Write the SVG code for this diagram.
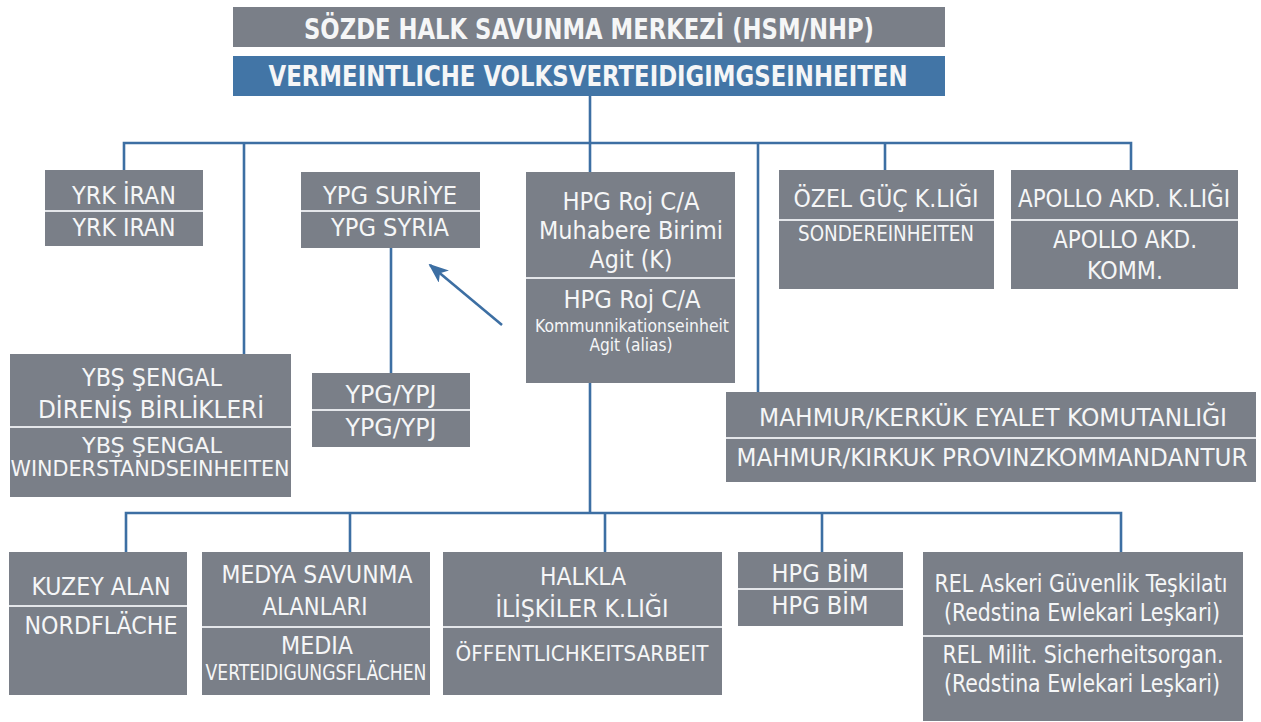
<svg xmlns="http://www.w3.org/2000/svg" width="1261" height="722" viewBox="0 0 1261 722">
<defs>
<style>
.b{fill:#7a7f88}
.bl{fill:#4275a6}
.s{stroke:#e4e6ea;stroke-width:2}
text{font-family:"Liberation Sans Narrow","DejaVu Sans Condensed","Liberation Sans",sans-serif;fill:#f5f6f7;text-anchor:middle;font-size:25px}
.h{font-weight:bold;font-size:29px}
.sm{font-size:21px}
.xs{font-size:18px}
.c{fill:none;stroke:#3d6fa3;stroke-width:2.6}
</style>
<marker id="ah" viewBox="0 0 20 16" refX="18" refY="8" markerWidth="20" markerHeight="16" orient="auto" markerUnits="userSpaceOnUse">
<path d="M0,0 L20,8 L0,16 L5,8 z" fill="#3d6fa3"/>
</marker>
</defs>
<rect width="1261" height="722" fill="#ffffff"/>

<g id="connectors">
<path class="c" d="M590 96 V143"/>
<path class="c" d="M124 170 V143 H1131 V170"/>
<path class="c" d="M244 143 V354"/>
<path class="c" d="M590 143 V172"/>
<path class="c" d="M758 143 V392"/>
<path class="c" d="M885 143 V170"/>
<path class="c" d="M391 248 V373"/>
<path class="c" d="M590 383 V513"/>
<path class="c" d="M126 552 V513 H1121 V552"/>
<path class="c" d="M350 513 V552"/>
<path class="c" d="M605 513 V552"/>
<path class="c" d="M822 513 V552"/>
<path class="c" d="M502 325 L430 265" stroke-width="3" marker-end="url(#ah)"/>
</g>

<g id="n-hsm">
<rect class="b" x="233" y="7" width="712" height="40"/>
<text class="h" x="589" y="39" textLength="570" lengthAdjust="spacingAndGlyphs">SÖZDE HALK SAVUNMA MERKEZİ (HSM/NHP)</text>
</g>
<g id="n-vve">
<rect class="bl" x="233" y="56" width="712" height="40"/>
<text class="h" x="588" y="86" textLength="639" lengthAdjust="spacingAndGlyphs">VERMEINTLICHE VOLKSVERTEIDIGIMGSEINHEITEN</text>
</g>

<g id="n-yrk">
<rect class="b" x="45" y="170" width="158" height="76"/>
<line class="s" x1="45" y1="211" x2="203" y2="211"/>
<text x="124" y="204" textLength="104" lengthAdjust="spacingAndGlyphs">YRK İRAN</text>
<text x="124" y="236" textLength="103" lengthAdjust="spacingAndGlyphs">YRK IRAN</text>
</g>

<g id="n-ypg-syria">
<rect class="b" x="301" y="172" width="179" height="76"/>
<line class="s" x1="301" y1="211" x2="480" y2="211"/>
<text x="390" y="204" textLength="134" lengthAdjust="spacingAndGlyphs">YPG SURİYE</text>
<text x="390" y="236" textLength="118" lengthAdjust="spacingAndGlyphs">YPG SYRIA</text>
</g>

<g id="n-hpg-roj">
<rect class="b" x="526" y="172" width="209" height="211"/>
<line class="s" x1="526" y1="278" x2="735" y2="278"/>
<text x="631" y="210" textLength="137" lengthAdjust="spacingAndGlyphs">HPG Roj C/A</text>
<text x="631" y="239" textLength="184" lengthAdjust="spacingAndGlyphs">Muhabere Birimi</text>
<text x="631" y="268" textLength="83" lengthAdjust="spacingAndGlyphs">Agit (K)</text>
<text x="632" y="308" textLength="137" lengthAdjust="spacingAndGlyphs">HPG Roj C/A</text>
<text class="xs" x="632" y="332" textLength="194" lengthAdjust="spacingAndGlyphs">Kommunnikationseinheit</text>
<text class="xs" x="631" y="351" textLength="83" lengthAdjust="spacingAndGlyphs">Agit (alias)</text>
</g>

<g id="n-ozel">
<rect class="b" x="779" y="170" width="215" height="119"/>
<line class="s" x1="779" y1="220" x2="994" y2="220"/>
<text x="886" y="207" textLength="185" lengthAdjust="spacingAndGlyphs">ÖZEL GÜÇ K.LIĞI</text>
<text class="sm" x="886" y="241" textLength="176" lengthAdjust="spacingAndGlyphs">SONDEREINHEITEN</text>
</g>

<g id="n-apollo">
<rect class="b" x="1011" y="170" width="227" height="119"/>
<line class="s" x1="1011" y1="220" x2="1238" y2="220"/>
<text x="1124" y="207" textLength="212" lengthAdjust="spacingAndGlyphs">APOLLO AKD. K.LIĞI</text>
<text x="1125" y="248" textLength="144" lengthAdjust="spacingAndGlyphs">APOLLO AKD.</text>
<text x="1125" y="279" textLength="76" lengthAdjust="spacingAndGlyphs">KOMM.</text>
</g>

<g id="n-ybs">
<rect class="b" x="10" y="354" width="281" height="143"/>
<line class="s" x1="10" y1="427" x2="291" y2="427"/>
<text x="152" y="386" textLength="140" lengthAdjust="spacingAndGlyphs">YBŞ ŞENGAL</text>
<text x="151" y="418" textLength="226" lengthAdjust="spacingAndGlyphs">DİRENİŞ BİRLİKLERİ</text>
<text class="sm" x="152" y="453" textLength="140" lengthAdjust="spacingAndGlyphs">YBŞ ŞENGAL</text>
<text class="sm" x="150" y="476" textLength="279" lengthAdjust="spacingAndGlyphs">WINDERSTANDSEINHEITEN</text>
</g>

<g id="n-ypg-ypj">
<rect class="b" x="312" y="373" width="158" height="74"/>
<line class="s" x1="312" y1="410" x2="470" y2="410"/>
<text x="391" y="403" textLength="91" lengthAdjust="spacingAndGlyphs">YPG/YPJ</text>
<text x="391" y="436" textLength="91" lengthAdjust="spacingAndGlyphs">YPG/YPJ</text>
</g>

<g id="n-mahmur">
<rect class="b" x="726" y="392" width="530" height="90"/>
<line class="s" x1="726" y1="438" x2="1256" y2="438"/>
<text x="993" y="426" textLength="468" lengthAdjust="spacingAndGlyphs">MAHMUR/KERKÜK EYALET KOMUTANLIĞI</text>
<text x="992" y="466" textLength="511" lengthAdjust="spacingAndGlyphs">MAHMUR/KIRKUK PROVINZKOMMANDANTUR</text>
</g>

<g id="n-kuzey">
<rect class="b" x="9" y="552" width="178" height="143"/>
<line class="s" x1="9" y1="606" x2="187" y2="606"/>
<text x="101" y="595" textLength="139" lengthAdjust="spacingAndGlyphs">KUZEY ALAN</text>
<text x="101" y="634" textLength="153" lengthAdjust="spacingAndGlyphs">NORDFLÄCHE</text>
</g>

<g id="n-medya">
<rect class="b" x="202" y="552" width="228" height="143"/>
<line class="s" x1="202" y1="627" x2="430" y2="627"/>
<text x="317" y="583" textLength="191" lengthAdjust="spacingAndGlyphs">MEDYA SAVUNMA</text>
<text x="315" y="615" textLength="105" lengthAdjust="spacingAndGlyphs">ALANLARI</text>
<text x="317" y="654" textLength="72" lengthAdjust="spacingAndGlyphs">MEDIA</text>
<text class="sm" x="316" y="680" textLength="221" lengthAdjust="spacingAndGlyphs">VERTEIDIGUNGSFLÄCHEN</text>
</g>

<g id="n-halkla">
<rect class="b" x="443" y="552" width="279" height="143"/>
<line class="s" x1="443" y1="627" x2="722" y2="627"/>
<text x="583" y="585" textLength="86" lengthAdjust="spacingAndGlyphs">HALKLA</text>
<text x="582" y="617" textLength="173" lengthAdjust="spacingAndGlyphs">İLİŞKİLER K.LIĞI</text>
<text class="sm" x="582" y="661" textLength="253" lengthAdjust="spacingAndGlyphs">ÖFFENTLICHKEITSARBEIT</text>
</g>

<g id="n-hpg-bim">
<rect class="b" x="738" y="552" width="165" height="74"/>
<line class="s" x1="738" y1="589" x2="903" y2="589"/>
<text x="820" y="582" textLength="97" lengthAdjust="spacingAndGlyphs">HPG BİM</text>
<text x="820" y="614" textLength="97" lengthAdjust="spacingAndGlyphs">HPG BİM</text>
</g>

<g id="n-rel">
<rect class="b" x="923" y="552" width="320" height="169"/>
<line class="s" x1="923" y1="636" x2="1243" y2="636"/>
<text x="1081" y="592" textLength="293" lengthAdjust="spacingAndGlyphs">REL Askeri Güvenlik Teşkilatı</text>
<text x="1082" y="621" textLength="276" lengthAdjust="spacingAndGlyphs">(Redstina Ewlekari Leşkari)</text>
<text x="1083" y="663" textLength="281" lengthAdjust="spacingAndGlyphs">REL Milit. Sicherheitsorgan.</text>
<text x="1082" y="692" textLength="276" lengthAdjust="spacingAndGlyphs">(Redstina Ewlekari Leşkari)</text>
</g>
</svg>
